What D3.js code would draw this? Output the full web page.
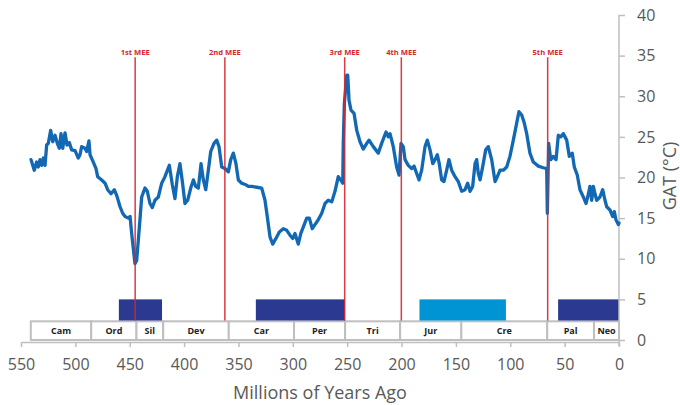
<!DOCTYPE html>
<html>
<head>
<meta charset="utf-8">
<script src="https://cdn.jsdelivr.net/npm/d3@7"></script>
<style>
  html, body { margin: 0; padding: 0; background: #fff; }
  svg { display: block; }
</style>
</head>
<body>
<svg id="chart" width="680" height="405"></svg>
<script>
// ---------- DATA ----------
const age = [540.8,537.8,535.6,534.1,532.5,531.0,529.5,527.9,526.4,524.9,522.7,520.8,518.7,516.6,514.8,513.2,511.6,509.5,507.7,505.6,503.4,500.3,497.3,495.7,494.2,491.1,489.6,487.5,486.5,483.5,481.0,479.5,475.8,472.7,470.3,467.2,464.2,462.0,458.9,456.5,454.3,451.3,449.7,448.2,445.2,443.6,440.6,439.0,436.0,433.8,431.4,429.2,426.8,423.7,420.6,417.6,413.6,410.8,408.4,406.2,403.8,401.6,399.2,396.7,393.9,391.5,389.3,386.9,384.4,382.3,380.1,377.7,375.5,372.5,370.0,367.9,365.4,362.4,359.3,357.1,354.7,352.3,350.1,347.0,343.1,340.9,337.8,333.2,328.6,325.6,323.5,321.0,318.5,315.5,312.4,308.8,305.6,302.6,300.1,298.0,295.0,292.7,290.4,287.2,284.8,282.1,279.6,276.6,273.4,270.4,267.4,264.2,261.2,258.2,256.0,254.1,253.6,252.6,250.4,249.5,248.3,246.5,243.7,241.2,238.2,235.2,232.0,229.9,226.0,221.4,218.3,214.3,212.2,210.6,207.6,204.5,202.3,200.5,198.4,196.8,193.8,190.7,188.5,186.1,183.9,181.5,178.4,176.3,173.8,171.3,169.2,167.1,165.3,163.1,161.0,158.5,156.4,153.9,150.8,147.8,144.7,141.6,139.2,137.0,134.6,132.4,130.9,129.4,127.8,125.4,122.6,120.2,117.1,114.0,111.9,109.4,106.4,103.3,100.3,97.2,94.1,92.0,89.5,87.1,84.9,81.9,78.8,74.2,69.6,66.5,65.9,64.7,62.8,60.4,57.9,55.8,53.6,51.2,48.1,45.7,43.0,41.1,38.4,35.9,32.8,30.4,28.8,26.7,25.1,23.6,22.1,20.5,17.5,15.0,12.9,11.3,8.3,5.8,4.3,2.8,0.6,0];
const gat = [22.2,20.9,21.9,21.3,22.2,21.5,22.4,21.5,24.0,24.2,25.8,24.4,25.2,24.2,23.6,25.4,23.6,25.5,24.0,24.3,23.4,23.3,22.4,22.8,23.8,23.6,23.2,24.5,22.8,21.9,21.1,20.1,19.7,19.3,18.5,18.0,18.5,17.8,16.4,15.6,15.2,15.0,15.2,13.1,9.4,9.8,14.8,17.6,18.7,18.3,16.8,16.3,17.2,17.6,19.3,20.1,21.5,19.1,17.4,20.1,21.7,19.5,16.8,17.2,18.7,19.7,18.9,18.7,21.7,19.7,18.5,20.9,23.2,24.2,24.6,23.8,21.3,21.1,20.7,22.2,23.0,21.7,19.7,19.3,19.1,18.9,18.9,18.8,18.7,17.2,15.2,12.7,11.8,12.5,13.3,13.7,13.5,12.9,12.5,13.1,11.8,13.1,13.9,15.0,15.0,13.7,14.2,14.8,15.6,16.8,17.2,17.0,18.3,20.1,19.7,19.3,24.2,29.1,32.6,32.6,29.5,28.3,27.9,25.8,24.4,23.5,24.2,24.6,23.8,23.0,24.2,25.6,25.0,25.4,23.8,21.3,20.3,24.2,23.8,22.2,21.5,21.1,21.4,20.5,19.7,20.9,23.8,24.6,23.4,21.7,22.2,22.8,21.7,19.7,19.5,20.9,22.2,20.9,20.1,19.5,18.3,18.5,19.3,18.3,18.9,21.7,22.2,20.5,19.7,21.3,23.4,23.8,22.2,19.5,20.1,20.9,20.9,21.3,22.6,24.6,26.7,28.1,27.7,26.7,25.4,23.0,21.9,21.4,21.2,21.1,15.6,24.2,22.2,22.6,22.2,25.2,25.0,25.4,24.6,22.6,23.0,21.3,20.3,18.5,17.6,16.8,17.6,18.9,17.2,18.9,18.0,17.2,17.6,18.5,17.2,16.4,16.0,15.2,15.8,14.8,14.2,14.4];

const periodNames  = ["Cam","Ord","Sil","Dev","Car","Per","Tri","Jur","Cre","Pal","Neo"];
const periodStarts = [541,485.4,443.8,419.2,358.9,298.9,251.9,201.3,145,66,23];
const periodEnds   = [485.4,443.8,419.2,358.9,298.9,251.9,201.3,145,66,23,0];

const iceStart = [460,334,183.5,56];
const iceEnd   = [420.3,252,104,0];
const iceKind  = ["major","major","minor","major"];

const meeLabels = ["1st MEE","2nd MEE","3rd MEE","4th MEE","5th MEE"];
const meeAges   = [445,362.5,252.3,200.2,65.6];

const xTicks = [550,500,450,400,350,300,250,200,150,100,50,0];
const yTicks = [0,5,10,15,20,25,30,35,40];

const periodBand = [0,2.3];   // GAT units occupied by period boxes
const iceBand = [2.4,5];
const meeTop = 34.8;

// ---------- CHART ----------
const svg = d3.select("#chart");
const x = d3.scaleLinear().domain([550,0]).range([21,619]);
const y = d3.scaleLinear().domain([0,40]).range([340,15]);
const iceColor = d3.scaleOrdinal().domain(["major","minor"]).range(["#2b3990","#0094d4"]);
const grey = "#bfbfbf";
const txt = "#595959";

// period boxes
const pg = svg.append("g");
pg.selectAll("rect").data(periodNames).join("rect")
  .attr("x", (d,i)=>x(periodStarts[i]))
  .attr("width", (d,i)=>x(periodEnds[i])-x(periodStarts[i]))
  .attr("y", y(periodBand[1]))
  .attr("height", y(periodBand[0])-y(periodBand[1]))
  .attr("fill","#fff").attr("stroke",grey).attr("stroke-width",2);
pg.selectAll("text").data(periodNames).join("text")
  .attr("x",(d,i)=>(x(periodStarts[i])+x(periodEnds[i]))/2)
  .attr("y",(y(periodBand[0])+y(periodBand[1]))/2+3.2)
  .attr("text-anchor","middle")
  .style("font-family","'Open Sans', sans-serif").style("font-weight","bold")
  .style("font-size","9px").attr("fill","#222")
  .text(d=>d);

// glaciation bars
svg.append("g").selectAll("rect").data(iceStart).join("rect")
  .attr("x",(d,i)=>x(iceStart[i]))
  .attr("width",(d,i)=>x(iceEnd[i])-x(iceStart[i]))
  .attr("y",y(iceBand[1]))
  .attr("height",y(iceBand[0])-y(iceBand[1]))
  .attr("fill",(d,i)=>iceColor(iceKind[i]));

// x axis
const xAxis = d3.axisBottom(x).tickValues(xTicks).tickSize(5).tickSizeOuter(0).tickFormat(d3.format("d"));
const xg = svg.append("g").attr("transform","translate(0,342)").call(xAxis);
xg.select(".domain").attr("stroke",grey).attr("stroke-width",1.5);
xg.selectAll(".tick line").attr("stroke",grey).attr("stroke-width",1.5);
xg.selectAll(".tick text").attr("fill",txt).attr("dy",null).attr("y",27.5)
  .style("font-family","'Open Sans', sans-serif").style("font-size","16px");

// y axis (right)
const yAxis = d3.axisRight(y).tickValues(yTicks).tickSize(6).tickSizeOuter(0);
const yg = svg.append("g").attr("transform","translate(619,0)").call(yAxis);
yg.select(".domain").attr("stroke",grey).attr("stroke-width",1.5).attr("d","M0,15V346");
yg.selectAll(".tick line").attr("stroke",grey).attr("stroke-width",1.5);
yg.selectAll(".tick text").attr("fill",txt).attr("x",18)
  .style("font-family","'Open Sans', sans-serif").style("font-size","16px");

// curve
const pts = age.map((a,i)=>[a,gat[i]]);
svg.append("path").datum(pts)
  .attr("fill","none").attr("stroke","#1268b3").attr("stroke-width",3.3)
  .attr("stroke-linejoin","round").attr("stroke-linecap","round")
  .attr("d", d3.line().x(d=>x(d[0])).y(d=>y(d[1])));

// MEE lines
const mg = svg.append("g");
mg.selectAll("line").data(meeAges).join("line")
  .attr("x1",d=>x(d)).attr("x2",d=>x(d))
  .attr("y1",y(meeTop)).attr("y2",y(iceBand[0]))
  .attr("stroke","#d7262e").attr("stroke-width",1.5).attr("opacity",0.9);
mg.selectAll("text").data(meeLabels).join("text")
  .attr("x",(d,i)=>x(meeAges[i])).attr("y",y(meeTop)-2.5)
  .attr("text-anchor","middle")
  .style("font-family","'Open Sans', sans-serif").style("font-weight","bold")
  .style("font-size","7.6px").attr("fill","#d7262e")
  .text(d=>d);

// axis titles
svg.append("text").attr("x",320).attr("y",399).attr("text-anchor","middle")
  .style("font-family","'Open Sans', sans-serif").style("font-size","18px").attr("fill",txt)
  .text("Millions of Years Ago");
svg.append("text").attr("transform","translate(676,176) rotate(-90)").attr("text-anchor","middle")
  .style("font-family","'Open Sans', sans-serif").style("font-size","18px").attr("fill",txt)
  .text("GAT (°C)");
</script>
</body>
</html>
